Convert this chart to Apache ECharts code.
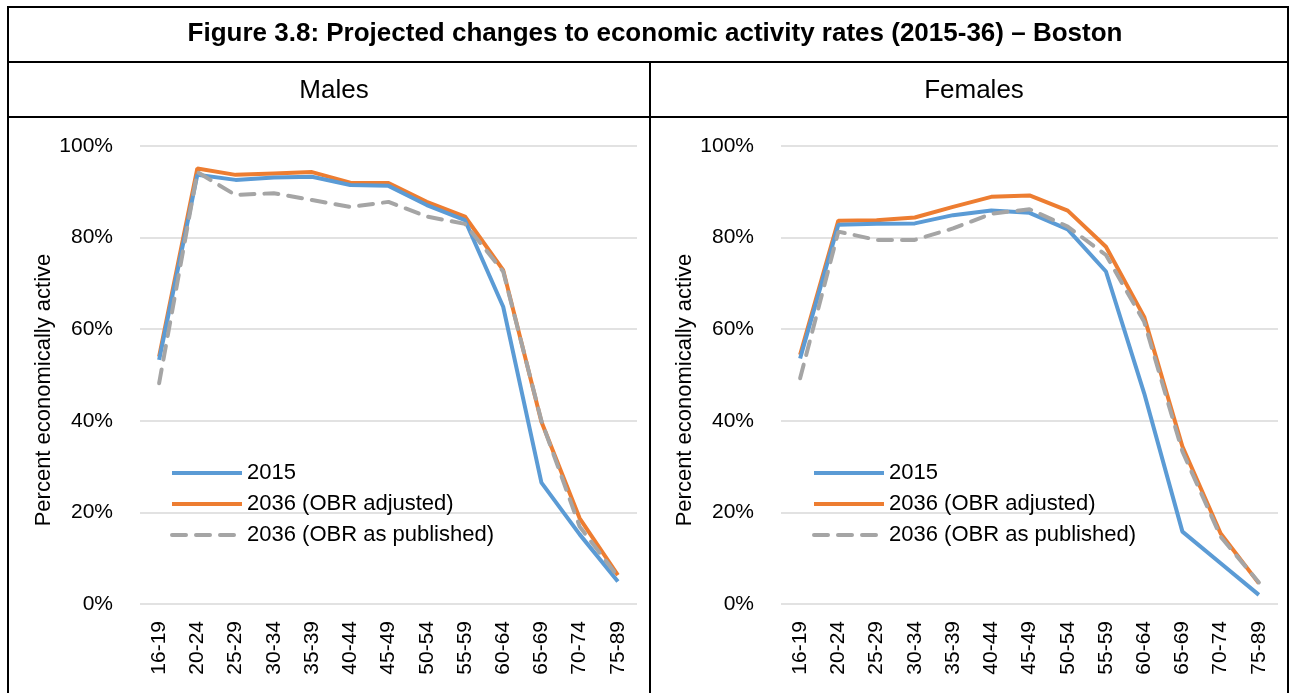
<!DOCTYPE html>
<html>
<head>
<meta charset="utf-8">
<script src="https://cdn.jsdelivr.net/npm/echarts@6/dist/echarts.min.js"></script>
<style>
html,body{margin:0;padding:0;background:#fff;}
#chart{width:1290px;height:693px;}
</style>
</head>
<body>
<div id="chart"></div>
<script>
const categories = ['16-19','20-24','25-29','30-34','35-39','40-44','45-49','50-54','55-59','60-64','65-69','70-74','75-89'];
const yTicks = [0, 20, 40, 60, 80, 100];
const seriesNames = ['2015', '2036 (OBR adjusted)', '2036 (OBR as published)'];

const males2015      = [53.3, 93.7, 92.6, 93.1, 93.3, 91.5, 91.3, 87.1, 83.8, 64.9, 26.5, 15.2, 4.9];
const malesAdjusted  = [54.0, 95.1, 93.7, 94.0, 94.3, 92.0, 91.9, 87.8, 84.6, 72.9, 39.8, 18.7, 6.3];
const malesPublished = [48.2, 94.3, 89.3, 89.7, 88.2, 86.7, 87.8, 84.6, 83.0, 72.6, 40.0, 16.9, 6.0];

const females2015      = [53.6, 82.8, 83.0, 83.1, 84.9, 85.9, 85.4, 81.8, 72.6, 46.0, 15.8, 8.9, 2.0];
const femalesAdjusted  = [54.4, 83.7, 83.8, 84.4, 86.7, 88.9, 89.2, 85.9, 78.0, 62.7, 34.4, 15.4, 4.5];
const femalesPublished = [49.3, 81.3, 79.5, 79.5, 82.0, 85.2, 86.2, 82.4, 76.2, 61.6, 33.3, 14.7, 4.7];

const FONT = '"Liberation Sans", Arial, sans-serif';
const colors = ['#5B9BD5', '#ED7D31', '#A5A5A5'];

function mkSeries(idx, data) {
  return data.map((d, i) => ({
    name: seriesNames[i],
    type: 'line',
    xAxisIndex: idx,
    yAxisIndex: idx,
    data: d,
    symbol: 'none',
    z: i === 0 ? 3 : (i === 1 ? 2 : 4),
    lineStyle: {
      color: colors[i],
      width: 4,
      type: i === 2 ? [14, 10] : 'solid',
      cap: i === 2 ? 'round' : 'butt'
    },
    itemStyle: { color: colors[i] },
    animation: false
  }));
}

function mkX(idx) {
  return {
    type: 'category',
    gridIndex: idx,
    data: categories,
    boundaryGap: true,
    axisLine: { show: false },
    axisTick: { show: false },
    axisLabel: { rotate: 90, margin: 17, fontFamily: FONT, fontSize: 21, color: '#000' }
  };
}
function mkY(idx) {
  return {
    type: 'value',
    gridIndex: idx,
    min: 0, max: 100, interval: 20,
    name: 'Percent economically active',
    nameLocation: 'middle',
    nameGap: 80,
    nameTextStyle: { fontFamily: FONT, fontSize: 22, color: '#000', padding: [0, 30, 0, 0] },
    axisLine: { show: false },
    axisTick: { show: false },
    splitLine: { lineStyle: { color: '#D9D9D9', width: 1.5 } },
    axisLabel: {
      margin: 27, fontFamily: FONT, fontSize: 21, color: '#000',
      formatter: v => (yTicks.indexOf(v) >= 0 ? v + '%' : '')
    }
  };
}
function mkLegend(left) {
  return {
    orient: 'vertical',
    left: left,
    top: 462,
    padding: 0,
    itemWidth: 70,
    itemHeight: 20,
    itemGap: 9,
    data: seriesNames,
    lineStyle: { width: 4 },
    itemStyle: { color: 'rgba(0,0,0,0)', borderColor: 'rgba(0,0,0,0)', borderWidth: 0, opacity: 0 },
    textStyle: { fontFamily: FONT, fontSize: 22, color: '#000' },
    selectedMode: false
  };
}

const chart = echarts.init(document.getElementById('chart'));
chart.setOption({
  backgroundColor: '#fff',
  animation: false,
  title: [
    { text: 'Figure 3.8: Projected changes to economic activity rates (2015-36) – Boston',
      left: 650, top: 16, textAlign: 'center',
      textStyle: { fontFamily: FONT, fontWeight: 'bold', fontSize: 26, color: '#000' } },
    { text: 'Males', left: 329, top: 73, textAlign: 'center',
      textStyle: { fontFamily: FONT, fontWeight: 'normal', fontSize: 26, color: '#000' } },
    { text: 'Females', left: 969, top: 73, textAlign: 'center',
      textStyle: { fontFamily: FONT, fontWeight: 'normal', fontSize: 26, color: '#000' } }
  ],
  grid: [
    { left: 140, right: 653, top: 146, bottom: 89, containLabel: false },
    { left: 781, right: 12, top: 146, bottom: 89, containLabel: false }
  ],
  legend: [mkLegend(170), mkLegend(812)],
  xAxis: [mkX(0), mkX(1)],
  yAxis: [mkY(0), mkY(1)],
  series: [
    ...mkSeries(0, [males2015, malesAdjusted, malesPublished]),
    ...mkSeries(1, [females2015, femalesAdjusted, femalesPublished])
  ],
  graphic: [
    { type: 'line', shape: { x1: 8, y1: 7, x2: 1288, y2: 7 }, style: { stroke: '#000', lineWidth: 2 } },
    { type: 'line', shape: { x1: 8, y1: 62, x2: 1288, y2: 62 }, style: { stroke: '#000', lineWidth: 2 } },
    { type: 'line', shape: { x1: 8, y1: 117, x2: 1288, y2: 117 }, style: { stroke: '#000', lineWidth: 2 } },
    { type: 'line', shape: { x1: 8, y1: 6, x2: 8, y2: 693 }, style: { stroke: '#000', lineWidth: 2 } },
    { type: 'line', shape: { x1: 1288, y1: 6, x2: 1288, y2: 693 }, style: { stroke: '#000', lineWidth: 2 } },
    { type: 'line', shape: { x1: 650, y1: 62, x2: 650, y2: 693 }, style: { stroke: '#000', lineWidth: 2 } }
  ]
});
</script>
</body>
</html>
